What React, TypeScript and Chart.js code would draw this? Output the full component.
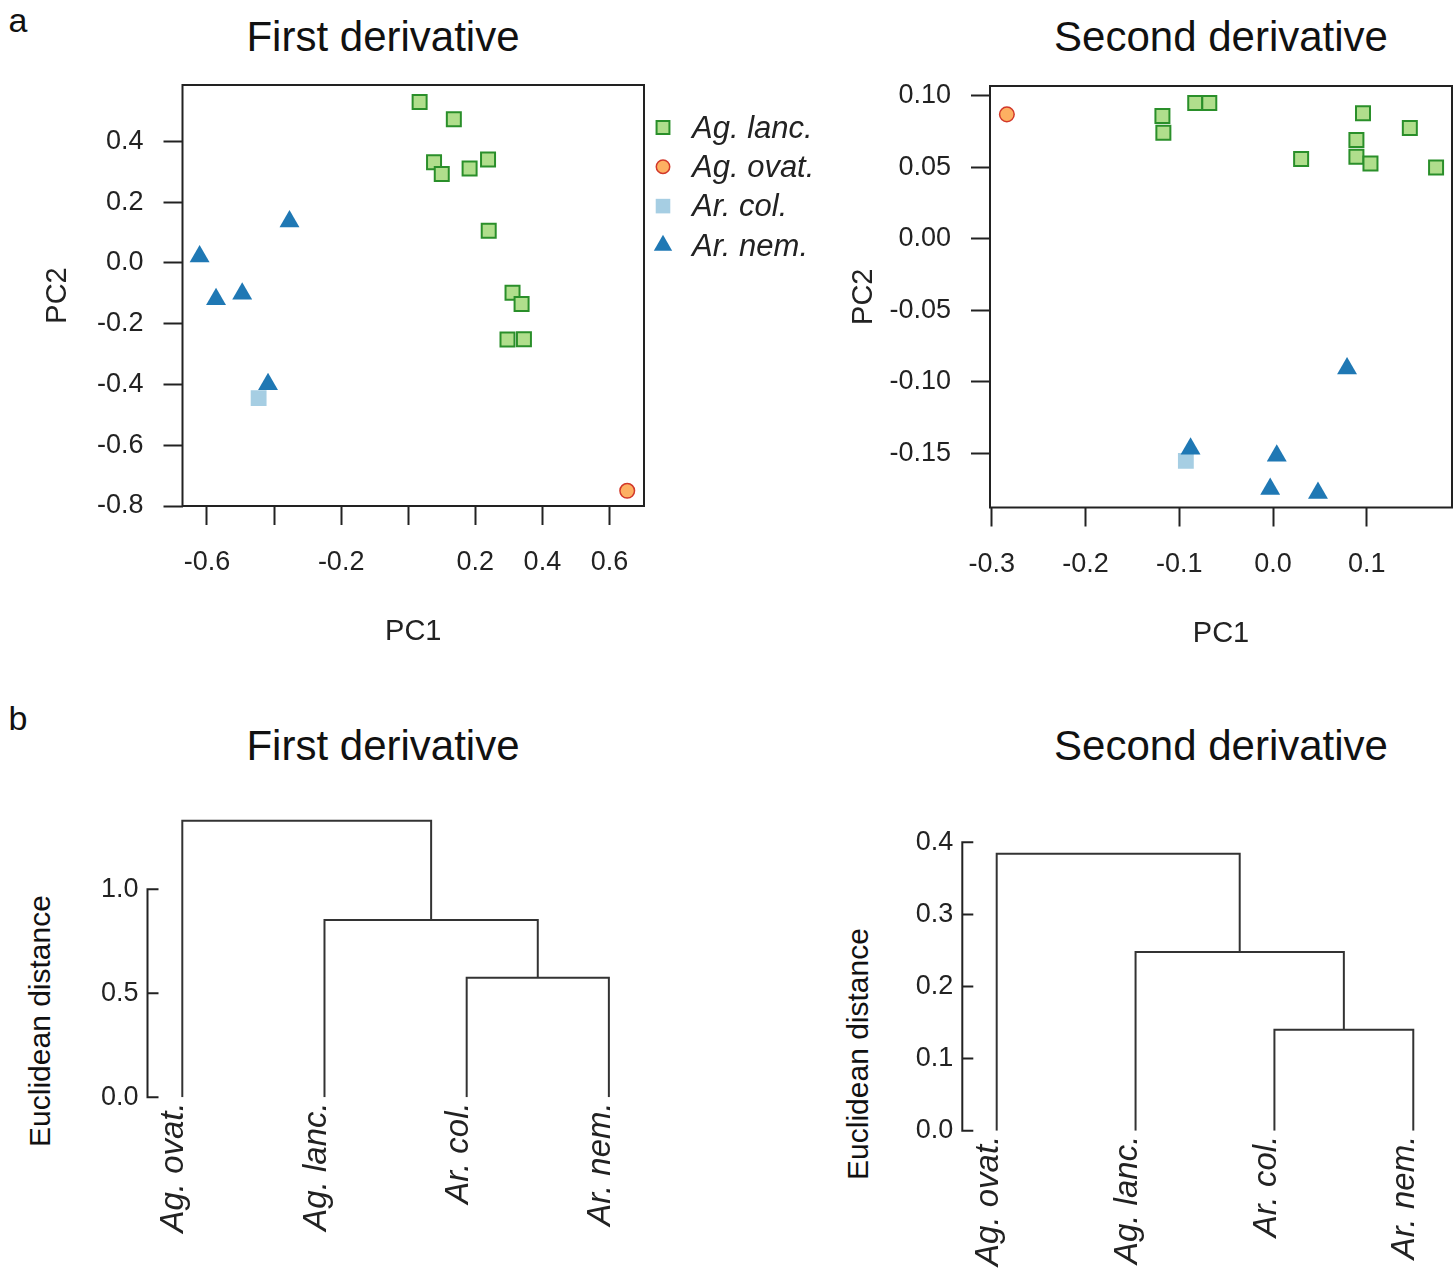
import React, { useEffect, useRef } from 'react';
import { Chart, registerables } from 'chart.js';
import { drawPoint } from 'chart.js/helpers';

Chart.register(...registerables);

const FONT = '"Liberation Sans", Arial, Helvetica, sans-serif';
const INK = '#222222';
Chart.defaults.font.family = FONT;
Chart.defaults.color = INK;

// ---------------- data ----------------
const speciesLabels = ['Ag. lanc.', 'Ag. ovat.', 'Ar. col.', 'Ar. nem.'];

// PCA, first derivative
const pca1AgLancPC1 = [0.034, 0.136, 0.077, 0.100, 0.183, 0.238, 0.240, 0.311, 0.338, 0.296, 0.345];
const pca1AgLancPC2 = [0.530, 0.473, 0.332, 0.293, 0.311, 0.341, 0.106, -0.098, -0.135, -0.252, -0.251];
const pca1AgOvatPC1 = [0.653];
const pca1AgOvatPC2 = [-0.750];
const pca1ArColPC1 = [-0.446];
const pca1ArColPC2 = [-0.445];
const pca1ArNemPC1 = [-0.354, -0.622, -0.573, -0.495, -0.418];
const pca1ArNemPC2 = [0.137, 0.021, -0.119, -0.101, -0.399];

const pca1XTicks = [-0.6, -0.4, -0.2, 0, 0.2, 0.4, 0.6];
const pca1XTickLabels = ['-0.6', '', '-0.2', '', '0.2', '0.4', '0.6'];
const pca1YTicks = [-0.8, -0.6, -0.4, -0.2, 0, 0.2, 0.4];
const pca1YTickLabels = ['-0.8', '-0.6', '-0.4', '-0.2', '0.0', '0.2', '0.4'];
const pca1XRange = [-0.673, 0.703];
const pca1YRange = [-0.8, 0.586];

// PCA, second derivative
const pca2AgLancPC1 = [-0.118, -0.117, -0.083, -0.068, 0.096, 0.089, 0.089, 0.104, 0.030, 0.146, 0.174];
const pca2AgLancPC2 = [0.0858, 0.0741, 0.0949, 0.0949, 0.0877, 0.0690, 0.0573, 0.0527, 0.0557, 0.0774, 0.0499];
const pca2AgOvatPC1 = [-0.284];
const pca2AgOvatPC2 = [0.0870];
const pca2ArColPC1 = [-0.093];
const pca2ArColPC2 = [-0.1552];
const pca2ArNemPC1 = [-0.088, 0.004, -0.003, 0.048, 0.079];
const pca2ArNemPC2 = [-0.1467, -0.1517, -0.1749, -0.1776, -0.0906];

const pca2XTicks = [-0.3, -0.2, -0.1, 0, 0.1];
const pca2XTickLabels = ['-0.3', '-0.2', '-0.1', '0.0', '0.1'];
const pca2YTicks = [-0.15, -0.1, -0.05, 0, 0.05, 0.1];
const pca2YTickLabels = ['-0.15', '-0.10', '-0.05', '0.00', '0.05', '0.10'];
const pca2XRange = [-0.302, 0.191];
const pca2YRange = [-0.1878, 0.1068];

// Dendrograms (leaves in plotting order, merges in R hclust notation)
const dendLeaves = ['Ag. ovat.', 'Ag. lanc.', 'Ar. col.', 'Ar. nem.'];
const dendMerges = [[-3, -4], [-2, 1], [-1, 2]];
const dend1Heights = [0.575, 0.852, 1.33];
const dend2Heights = [0.140, 0.248, 0.384];
const dend1YTicks = [0, 0.5, 1.0];
const dend1YTickLabels = ['0.0', '0.5', '1.0'];
const dend2YTicks = [0, 0.1, 0.2, 0.3, 0.4];
const dend2YTickLabels = ['0.0', '0.1', '0.2', '0.3', '0.4'];

// ---------------- styles ----------------
const speciesStyles = [
  { pointStyle: 'rect', radius: 9.9, bg: '#b0de8c', border: '#2a8f2a', borderWidth: 2 },
  { pointStyle: 'circle', radius: 7.3, bg: '#fdb062', border: '#d2382a', borderWidth: 1.5 },
  { pointStyle: 'rect', radius: 11.2, bg: '#a6cee3', border: '#a6cee3', borderWidth: 0 },
  { pointStyle: 'triangle', radius: 11.5, bg: '#1f78b4', border: '#1f78b4', borderWidth: 0 },
];

function pcaDatasets(xs: number[][], ys: number[][]) {
  return speciesLabels.map((label, i) => {
    const st = speciesStyles[i];
    return {
      label,
      data: xs[i].map((x, j) => ({ x, y: ys[i][j] })),
      pointStyle: st.pointStyle,
      pointRadius: st.radius,
      backgroundColor: st.bg,
      borderColor: st.border,
      borderWidth: st.borderWidth,
      order: speciesLabels.length - i,
    };
  });
}

function dendroDatasets(heights: number[]) {
  const nodes: { x: number; h: number }[] = [];
  const pos = (id: number) => (id < 0 ? { x: -id, h: 0 } : nodes[id - 1]);
  return dendMerges.map((m, k) => {
    const a = pos(m[0]);
    const b = pos(m[1]);
    const node = { x: (a.x + b.x) / 2, h: heights[k] };
    nodes.push(node);
    return {
      label: 'merge ' + (k + 1),
      data: [
        { x: a.x, y: a.h },
        { x: a.x, y: node.h },
        { x: b.x, y: node.h },
        { x: b.x, y: b.h },
      ],
      showLine: true,
      pointRadius: 0,
      borderColor: '#333333',
      borderWidth: 2,
      fill: false,
      tension: 0,
    };
  });
}

// remove automatic label padding so the chart area is exactly what layout.padding says
function noAutoPad(s: any) {
  s.paddingTop = 0;
  s.paddingBottom = 0;
  s.paddingLeft = 0;
  s.paddingRight = 0;
}

// ---------------- plugins ----------------
const boxPlugin = {
  id: 'rBox',
  beforeDatasetsDraw(chart: any) {
    const { ctx, chartArea } = chart;
    ctx.save();
    ctx.strokeStyle = INK;
    ctx.lineWidth = 2;
    ctx.strokeRect(chartArea.left, chartArea.top, chartArea.right - chartArea.left, chartArea.bottom - chartArea.top);
    ctx.restore();
  },
};

function legendPlugin(markerX: number, textX: number, top: number, rowGap: number) {
  return {
    id: 'rLegend',
    afterDraw(chart: any) {
      const ctx = chart.ctx;
      chart.data.datasets.forEach((ds: any, i: number) => {
        const y = top + i * rowGap;
        ctx.save();
        ctx.fillStyle = ds.backgroundColor;
        ctx.strokeStyle = ds.borderColor;
        ctx.lineWidth = ds.borderWidth;
        drawPoint(ctx, { pointStyle: ds.pointStyle, rotation: 0, radius: ds.pointRadius * 0.92, borderWidth: ds.borderWidth } as any, markerX, y - 1.5);
        ctx.restore();
        ctx.save();
        ctx.font = 'italic 31px ' + FONT;
        ctx.fillStyle = INK;
        ctx.textAlign = 'left';
        ctx.textBaseline = 'middle';
        ctx.fillText(ds.label, textX, y);
        ctx.restore();
      });
    },
  };
}

function rAxisPlugin(ticks: number[]) {
  return {
    id: 'rAxis',
    afterDraw(chart: any) {
      const { ctx, chartArea } = chart;
      const ys = chart.scales.y;
      const x0 = chartArea.left;
      ctx.save();
      ctx.strokeStyle = INK;
      ctx.lineWidth = 2;
      ctx.beginPath();
      ctx.moveTo(x0, ys.getPixelForValue(ticks[0]));
      ctx.lineTo(x0, ys.getPixelForValue(ticks[ticks.length - 1]));
      ticks.forEach((t) => {
        const p = ys.getPixelForValue(t);
        ctx.moveTo(x0 - 1, p);
        ctx.lineTo(x0 + 11, p);
      });
      ctx.stroke();
      ctx.restore();
    },
  };
}

// ---------------- configs ----------------
type PcaGeo = {
  padding: any;
  yWidth: number;
  xHeight: number;
  yTitlePad: number;
  xTitlePad: number;
  xLabelPad: number;
  yLabelPad: number;
};

function pcaConfig(
  xs: number[][],
  ys: number[][],
  xRange: number[],
  yRange: number[],
  xTicks: number[],
  xTickLabels: string[],
  yTicks: number[],
  yTickLabels: string[],
  geo: PcaGeo,
  extraPlugins: any[]
): any {
  const grid = { display: true, drawOnChartArea: false, drawTicks: true, tickLength: 19, tickWidth: 2, tickColor: INK };
  return {
    type: 'scatter',
    data: { datasets: pcaDatasets(xs, ys) },
    options: {
      animation: false,
      responsive: false,
      devicePixelRatio: 1,
      events: [],
      layout: { padding: geo.padding, autoPadding: false },
      plugins: { legend: { display: false }, tooltip: { enabled: false }, title: { display: false } },
      scales: {
        x: {
          type: 'linear',
          min: xRange[0],
          max: xRange[1],
          afterBuildTicks: (s: any) => {
            s.ticks = xTicks.map((v) => ({ value: v }));
          },
          afterFit: (s: any) => {
            s.height = geo.xHeight;
            noAutoPad(s);
          },
          ticks: {
            callback: (_v: any, i: number) => xTickLabels[i],
            autoSkip: false,
            minRotation: 0,
            maxRotation: 0,
            padding: geo.xLabelPad,
            color: INK,
            font: { size: 27 },
          },
          grid,
          border: { display: false },
          title: { display: true, text: 'PC1', color: INK, font: { size: 29 }, padding: { top: 0, bottom: geo.xTitlePad } },
        },
        y: {
          type: 'linear',
          min: yRange[0],
          max: yRange[1],
          afterBuildTicks: (s: any) => {
            s.ticks = yTicks.map((v) => ({ value: v }));
          },
          afterFit: (s: any) => {
            s.width = geo.yWidth;
            noAutoPad(s);
          },
          ticks: {
            callback: (_v: any, i: number) => yTickLabels[i],
            autoSkip: false,
            padding: geo.yLabelPad,
            color: INK,
            font: { size: 27 },
          },
          grid,
          border: { display: false },
          title: { display: true, text: 'PC2', color: INK, font: { size: 29 }, padding: { top: geo.yTitlePad, bottom: 0 } },
        },
      },
    },
    plugins: [boxPlugin, ...extraPlugins],
  };
}

type DendGeo = { padding: any; yWidth: number; xHeight: number; xMin: number; xMax: number; yMax: number };

function dendroConfig(heights: number[], yTicks: number[], yTickLabels: string[], geo: DendGeo): any {
  return {
    type: 'scatter',
    data: { datasets: dendroDatasets(heights) },
    options: {
      animation: false,
      responsive: false,
      devicePixelRatio: 1,
      events: [],
      layout: { padding: geo.padding, autoPadding: false },
      plugins: { legend: { display: false }, tooltip: { enabled: false }, title: { display: false } },
      scales: {
        x: {
          type: 'linear',
          min: geo.xMin,
          max: geo.xMax,
          afterBuildTicks: (s: any) => {
            s.ticks = dendLeaves.map((_l, i) => ({ value: i + 1 }));
          },
          afterFit: (s: any) => {
            s.height = geo.xHeight;
            noAutoPad(s);
          },
          ticks: {
            callback: (_v: any, i: number) => dendLeaves[i],
            autoSkip: false,
            minRotation: 90,
            maxRotation: 90,
            labelOffset: -8,
            padding: 5,
            color: INK,
            font: { size: 33, style: 'italic' },
          },
          grid: { display: false, drawTicks: false },
          border: { display: false },
        },
        y: {
          type: 'linear',
          min: 0,
          max: geo.yMax,
          afterBuildTicks: (s: any) => {
            s.ticks = yTicks.map((v) => ({ value: v }));
          },
          afterFit: (s: any) => {
            s.width = geo.yWidth;
            noAutoPad(s);
          },
          ticks: {
            callback: (_v: any, i: number) => yTickLabels[i],
            autoSkip: false,
            padding: 9,
            color: INK,
            font: { size: 27 },
          },
          grid: { display: false, drawTicks: false },
          border: { display: false },
        },
      },
    },
    plugins: [rAxisPlugin(yTicks)],
  };
}

// ---------------- components ----------------
function ChartBox(props: { left: number; top: number; width: number; height: number; make: () => any }) {
  const ref = useRef<HTMLCanvasElement>(null);
  useEffect(() => {
    const chart = new Chart(ref.current as HTMLCanvasElement, props.make());
    return () => chart.destroy();
  }, []);
  return (
    <canvas
      ref={ref}
      width={props.width}
      height={props.height}
      style={{ position: 'absolute', left: props.left, top: props.top, width: props.width, height: props.height }}
    />
  );
}

function Label(props: { text: string; cx: number; cy: number; size: number; rotate?: boolean }) {
  return (
    <div
      style={{
        position: 'absolute',
        left: props.cx,
        top: props.cy,
        transform: 'translate(-50%, -50%)' + (props.rotate ? ' rotate(-90deg)' : ''),
        fontFamily: FONT,
        fontSize: props.size,
        lineHeight: 1,
        whiteSpace: 'nowrap',
        color: '#111',
      }}
    >
      {props.text}
    </div>
  );
}

export default function App() {
  return (
    <div style={{ position: 'absolute', left: 0, top: 0, width: 1453, height: 1270, background: '#fff', overflow: 'hidden' }}>
      <Label text="a" cx={18} cy={20} size={34} />
      <Label text="b" cx={18} cy={718} size={34} />
      <Label text="First derivative" cx={383} cy={37} size={42} />
      <Label text="Second derivative" cx={1221} cy={37} size={42} />
      <Label text="First derivative" cx={383} cy={746} size={42} />
      <Label text="Second derivative" cx={1221} cy={746} size={42} />
      <Label text="Euclidean distance" cx={40} cy={1021} size={30} rotate />
      <Label text="Euclidean distance" cx={858} cy={1054} size={30} rotate />

      <ChartBox
        left={0}
        top={70}
        width={840}
        height={600}
        make={() =>
          pcaConfig(
            [pca1AgLancPC1, pca1AgOvatPC1, pca1ArColPC1, pca1ArNemPC1],
            [pca1AgLancPC2, pca1AgOvatPC2, pca1ArColPC2, pca1ArNemPC2],
            pca1XRange,
            pca1YRange,
            pca1XTicks,
            pca1XTickLabels,
            pca1YTicks,
            pca1YTickLabels,
            {
              padding: { left: 20, top: 15, right: 196, bottom: 0 },
              yWidth: 162.5,
              xHeight: 164,
              yTitlePad: 20.6,
              xTitlePad: 20.6,
              xLabelPad: 21,
              yLabelPad: 20,
            },
            [legendPlugin(663, 692, 59, 39.3)]
          )
        }
      />
      <ChartBox
        left={840}
        top={70}
        width={613}
        height={600}
        make={() =>
          pcaConfig(
            [pca2AgLancPC1, pca2AgOvatPC1, pca2ArColPC1, pca2ArNemPC1],
            [pca2AgLancPC2, pca2AgOvatPC2, pca2ArColPC2, pca2ArNemPC2],
            pca2XRange,
            pca2YRange,
            pca2XTicks,
            pca2XTickLabels,
            pca2YTicks,
            pca2YTickLabels,
            {
              padding: { left: 0, top: 16, right: 1, bottom: 0 },
              yWidth: 150,
              xHeight: 162.5,
              yTitlePad: 6.6,
              xTitlePad: 18.6,
              xLabelPad: 22,
              yLabelPad: 20,
            },
            []
          )
        }
      />
      <ChartBox
        left={0}
        top={800}
        width={700}
        height={470}
        make={() =>
          dendroConfig(dend1Heights, dend1YTicks, dend1YTickLabels, {
            padding: { left: 0, top: 14.4, right: 57, bottom: 0 },
            yWidth: 147.5,
            xHeight: 172.7,
            xMin: 0.7553,
            xMax: 4.24,
            yMax: 1.36,
          })
        }
      />
      <ChartBox
        left={820}
        top={800}
        width={633}
        height={470}
        make={() =>
          dendroConfig(dend2Heights, dend2YTicks, dend2YTickLabels, {
            padding: { left: 0, top: 35.1, right: 5, bottom: 0 },
            yWidth: 142.3,
            xHeight: 139.3,
            xMin: 0.7523,
            xMax: 4.25,
            yMax: 0.41,
          })
        }
      />
    </div>
  );
}
